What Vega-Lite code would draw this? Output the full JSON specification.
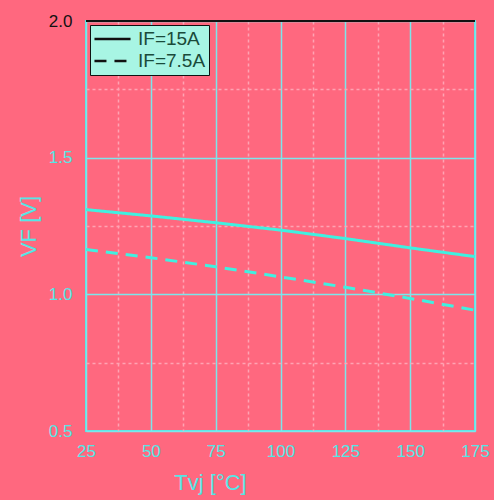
{
  "$schema": "https://vega.github.io/schema/vega-lite/v6.json",
  "autosize": {"type": "none"},
  "width": 389,
  "height": 410,
  "padding": {"left": 86, "top": 21, "right": 19, "bottom": 69},
  "background": "#ff687f",
  "config": {
    "view": {"stroke": "#55e6e6", "strokeWidth": 2},
    "font": "Liberation Sans"
  },
  "data": {
    "values": [
      {"T": 25, "V": 1.31, "s": "IF=15A"},
      {"T": 50, "V": 1.287, "s": "IF=15A"},
      {"T": 75, "V": 1.262, "s": "IF=15A"},
      {"T": 100, "V": 1.235, "s": "IF=15A"},
      {"T": 125, "V": 1.204, "s": "IF=15A"},
      {"T": 150, "V": 1.17, "s": "IF=15A"},
      {"T": 175, "V": 1.138, "s": "IF=15A"},
      {"T": 25, "V": 1.164, "s": "IF=7.5A"},
      {"T": 50, "V": 1.134, "s": "IF=7.5A"},
      {"T": 75, "V": 1.101, "s": "IF=7.5A"},
      {"T": 100, "V": 1.064, "s": "IF=7.5A"},
      {"T": 125, "V": 1.026, "s": "IF=7.5A"},
      {"T": 150, "V": 0.985, "s": "IF=7.5A"},
      {"T": 175, "V": 0.942, "s": "IF=7.5A"}
    ]
  },
  "layer": [
    {
      "mark": {"type": "line", "strokeWidth": 3, "color": "#40f0e0"},
      "encoding": {
        "x": {
          "field": "T", "type": "quantitative",
          "scale": {"domain": [25, 175], "nice": false, "zero": false},
          "axis": {
            "values": [25, 37.5, 50, 62.5, 75, 87.5, 100, 112.5, 125, 137.5, 150, 162.5, 175],
            "labelExpr": "datum.value % 25 === 0 ? datum.label : ''",
            "grid": true,
            "gridColor": {"condition": {"test": "datum.value % 25 !== 0", "value": "#ffa3b3"}, "value": "#7ce6ec"},
            "gridDash": {"condition": {"test": "datum.value % 25 !== 0", "value": [3, 3]}, "value": []},
            "gridWidth": 1.5,
            "domain": false,
            "ticks": false,
            "labelColor": "#55e6e6",
            "labelFontSize": 17,
            "labelPadding": 12,
            "labelFlush": false,
            "title": "Tvj [°C]",
            "titleColor": "#55e6e6",
            "titleFontSize": 22,
            "titleFontWeight": "normal",
            "titleX": 124,
            "titleY": 41,
            "titleBaseline": "top",
            "titleAlign": "center"
          }
        },
        "y": {
          "field": "V", "type": "quantitative",
          "scale": {"domain": [0.5, 2.0], "nice": false, "zero": false},
          "axis": {
            "values": [0.5, 0.75, 1.0, 1.25, 1.5, 1.75, 2.0],
            "labelExpr": "datum.value % 0.5 === 0 ? format(datum.value, '.1f') : ''",
            "grid": true,
            "gridColor": {"condition": {"test": "datum.value % 0.5 !== 0", "value": "#ffa3b3"}, "value": "#7ce6ec"},
            "gridDash": {"condition": {"test": "datum.value % 0.5 !== 0", "value": [3, 3]}, "value": []},
            "gridWidth": 1.5,
            "domain": false,
            "ticks": false,
            "labelColor": {"condition": {"test": "datum.value === 2", "value": "#111111"}, "value": "#55e6e6"},
            "labelFontSize": 17,
            "labelPadding": 14,
            "labelFlush": false,
            "title": "VF [V]",
            "titleColor": "#55e6e6",
            "titleFontSize": 22,
            "titleFontWeight": "normal",
            "titlePadding": 8
          }
        },
        "strokeDash": {
          "field": "s", "type": "nominal",
          "scale": {"domain": ["IF=15A", "IF=7.5A"], "range": [[1, 0], [12, 8]]},
          "legend": {
            "title": null,
            "orient": "top-left",
            "offset": 4,
            "fillColor": "#a8f5e4",
            "strokeColor": "#111111",
            "padding": 3,
            "labelFontSize": 19,
            "labelColor": "#1a4a3a",
            "labelOffset": 6,
            "symbolType": "stroke",
            "symbolSize": 1300,
            "symbolStrokeWidth": 2.5,
            "symbolStrokeColor": "#111111",
            "clipHeight": 22,
            "rowPadding": 0
          }
        }
      }
    },
    {
      "mark": {"type": "rule", "color": "#111111", "strokeWidth": 2},
      "encoding": {"y": {"datum": 2.0}}
    }
  ]
}
